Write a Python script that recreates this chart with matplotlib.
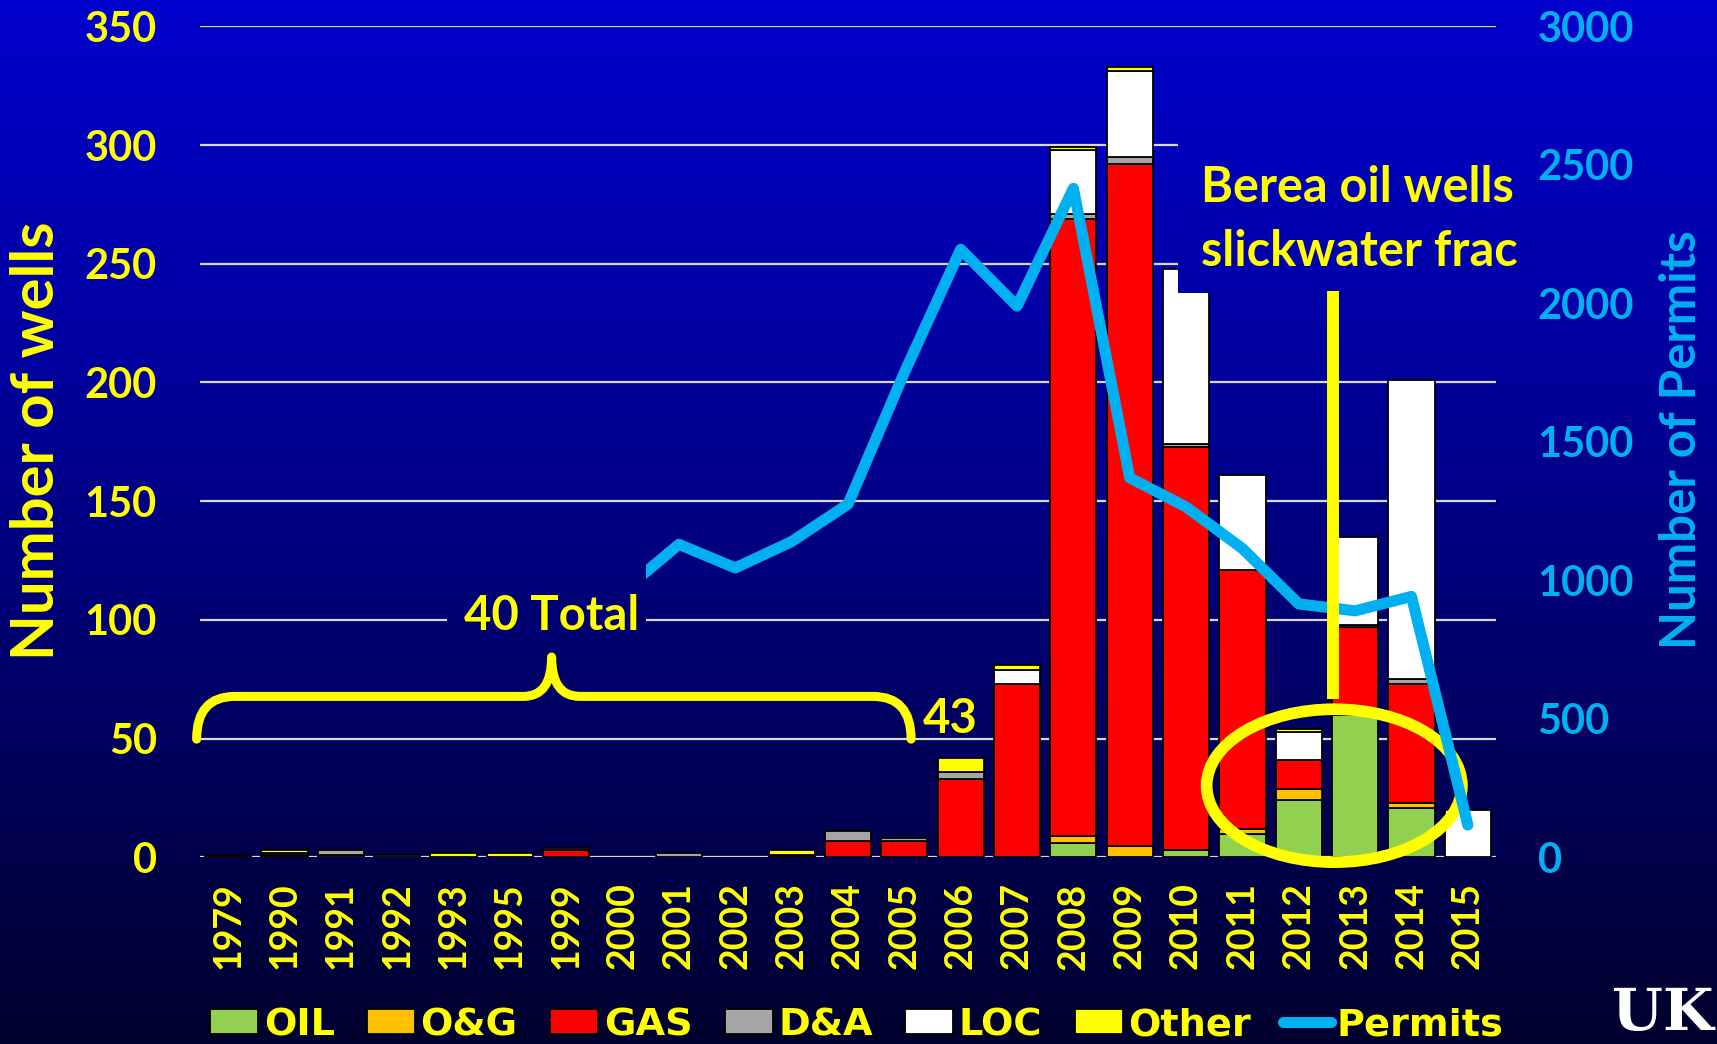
import numpy as np
import matplotlib
matplotlib.use("Agg")
import matplotlib.pyplot as plt
from matplotlib.patches import Rectangle, Ellipse, PathPatch
from matplotlib.path import Path
from matplotlib.lines import Line2D
from matplotlib.font_manager import FontProperties

plt.rcParams['font.family'] = ['Lato', 'DejaVu Sans']
plt.rcParams['font.weight'] = 'bold'

# ---------------- data ----------------
years = ['1979', '1990', '1991', '1992', '1993', '1995', '1999', '2000', '2001', '2002',
         '2003', '2004', '2005', '2006', '2007', '2008', '2009', '2010', '2011', '2012',
         '2013', '2014', '2015']
oil   = [0, 0, 0, 0, 0, 0, 0, 0, 0, 0, 0, 0, 0, 0, 0, 6, 0, 3, 10, 24, 60, 21, 0]
og    = [0, 0, 1, 0, 0, 0, 0, 0, 0, 0, 0, 0, 0, 0, 0, 3, 5, 0, 2, 5, 0, 2, 0]
gas   = [1, 1, 0, 0, 0, 0, 3, 0, 0, 0, 1, 7, 7, 33, 73, 260, 287, 170, 109, 12, 37, 50, 0]
da    = [0, 1, 2, 1, 0, 0, 1, 0, 2, 0, 0, 4, 1, 3, 0, 2, 3, 1, 0, 0, 1, 2, 0]
loc   = [0, 0, 0, 0, 0, 0, 0, 0, 0, 0, 0, 0, 0, 0, 6, 27, 36, 74, 40, 12, 37, 126, 20]
other = [0, 1, 0, 0, 2, 2, 0, 0, 0, 0, 2, 0, 0, 6, 2, 1, 2, 0, 0, 1, 0, 0, 0]
permits = [np.nan] * 7 + [960, 1130, 1045, 1140, 1275, 1750, 2195, 1990, 2415, 1370,
                          1265, 1115, 915, 890, 942, 117]

series_names = ['OIL', 'O&G', 'GAS', 'D&A', 'LOC', 'Other']
series_vals = [oil, og, gas, da, loc, other]
series_cols = ['#92D050', '#FFC000', '#FF0000', '#A6A6A6', '#FFFFFF', '#FFFF00']
permit_col = '#00B0F0'
yellow = '#FFFF00'

# ---------------- figure ----------------
W, H = 1717, 1044
fig = plt.figure(figsize=(W / 100, H / 100), dpi=100)

yy = np.arange(H)
blue = np.interp(yy, [0, 350, 730, 1044], [205, 160, 96, 45]) / 255.0
grad = np.zeros((H, 1, 3))
grad[:, 0, 2] = blue

bg = fig.add_axes([0, 0, 1, 1], zorder=0)
bg.imshow(grad, aspect='auto', extent=[0, W, H, 0])
bg.axis('off')

L, R, T, B = 200, 1496, 26.3, 857.4
ax = fig.add_axes([L / W, 1 - B / H, (R - L) / W, (B - T) / H], zorder=1)
ax.patch.set_visible(False)

x = np.arange(len(years))
bottom = np.zeros(len(years))
handles = []
for name, vals, col in zip(series_names, series_vals, series_cols):
    v = np.array(vals, dtype=float)
    m = v > 0
    h = ax.bar(x[m], v[m], bottom=bottom[m], width=0.82, color=col,
               edgecolor='black', linewidth=1.3, label=name, zorder=3)
    handles.append(h)
    bottom += v

ax.set_xlim(-0.5, len(years) - 0.5)
ax.set_ylim(0, 350)
ax.set_yticks(np.arange(0, 351, 50))
ax.set_xticks(x)
ax.set_xticklabels(years, rotation=90)
ax.grid(axis='y', color='#D9D9D9', lw=1.6)
ax.set_axisbelow(True)
for s in ax.spines.values():
    s.set_visible(False)
ax.tick_params(axis='y', length=0, labelsize=30, labelcolor=yellow, pad=31)
ax.tick_params(axis='x', length=0, labelsize=27, labelcolor=yellow, pad=18)

# highlight ellipse (in well units)
ax.add_patch(Ellipse((19.63, 30.2), width=4.53, height=64.4, fill=False,
                     edgecolor=yellow, lw=8.4, zorder=6, clip_on=False))

ax2 = ax.twinx()
ax2.set_zorder(2)
ax2.patch.set_visible(False)
pl, = ax2.plot(x, permits, color=permit_col, lw=8, solid_joinstyle='round',
               solid_capstyle='round', label='Permits', zorder=5)
ax2.set_ylim(0, 3000)
ax2.set_yticks(np.arange(0, 3001, 500))
for s in ax2.spines.values():
    s.set_visible(False)
ax2.tick_params(axis='y', length=0, labelsize=30, labelcolor=permit_col, pad=30)
ax2.set_xlim(-0.5, len(years) - 0.5)

# ---------------- overlay (text boxes + annotations) ----------------
ov = fig.add_axes([0, 0, 1, 1], zorder=3)
for (x0, y0, x1, y1) in [(1178, 112, 1530, 293), (447, 561, 645, 654)]:
    im = ov.imshow(grad, aspect='auto', extent=[0, W, H, 0], zorder=1)
    im.set_clip_path(Rectangle((x0, y0), x1 - x0, y1 - y0, transform=ov.transData))

# curly brace over 1979-2005 (well units)
x0b, x1b, xm = -0.56, 12.12, 5.74
y_tip, y_h, y_top = 49.8, 67.8, 84.4
r, r2 = 0.68, 0.5
verts = [(x0b, y_tip), (x0b, y_h), (x0b + r, y_h),
         (xm - r2, y_h), (xm, y_h), (xm, y_top),
         (xm, y_h), (xm + r2, y_h),
         (x1b - r, y_h), (x1b, y_h), (x1b, y_tip)]
codes = [Path.MOVETO, Path.CURVE3, Path.CURVE3,
         Path.LINETO, Path.CURVE3, Path.CURVE3,
         Path.CURVE3, Path.CURVE3,
         Path.LINETO, Path.CURVE3, Path.CURVE3]
brace = PathPatch(Path(verts, codes), transform=ax.transData, fill=False,
                  edgecolor=yellow, lw=6.5, capstyle='round', joinstyle='round', zorder=6)
ov.add_artist(brace)

ov.add_artist(Line2D([19.6, 19.6], [66.7, 238.5], transform=ax.transData,
                     color=yellow, lw=8.6, solid_capstyle='butt', zorder=6))

tk = dict(color=yellow, fontweight='bold', zorder=10)
ov.text(552, 616, '40 Total', ha='center', va='center', fontsize=34, **tk)
ov.text(950, 719, '43', ha='center', va='center', fontsize=34, **tk)
ov.text(1201, 188, 'Berea oil wells', ha='left', va='center', fontsize=35, **tk)
ov.text(1201, 252, 'slickwater frac', ha='left', va='center', fontsize=35, **tk)
ov.text(37, 441, 'Number of wells', ha='center', va='center', rotation=90,
        fontsize=43, **tk)
ov.text(1681, 440, 'Number of Permits', ha='center', va='center', rotation=90,
        fontsize=35.5, color=permit_col, fontweight='bold', zorder=10)
ov.text(1714, 1042, 'UK', ha='right', va='bottom', fontsize=42, color='white',
        fontweight='bold', family='DejaVu Serif', zorder=10)

ov.set_xlim(0, W)
ov.set_ylim(H, 0)
ov.axis('off')

# ---------------- legend ----------------
lp = FontProperties(family=['Liberation Sans Narrow', 'DejaVu Sans'], weight='bold', size=27.5)
leg = fig.legend(handles + [pl], series_names + ['Permits'], loc='center',
                 bbox_to_anchor=(857 / W, 1 - 1025 / H), ncol=7, frameon=False,
                 prop=lp, labelcolor=yellow, handlelength=1.25, handleheight=0.62,
                 handletextpad=0.15, columnspacing=0.85, borderpad=0, borderaxespad=0)

fig.savefig('out.png', dpi=100)
